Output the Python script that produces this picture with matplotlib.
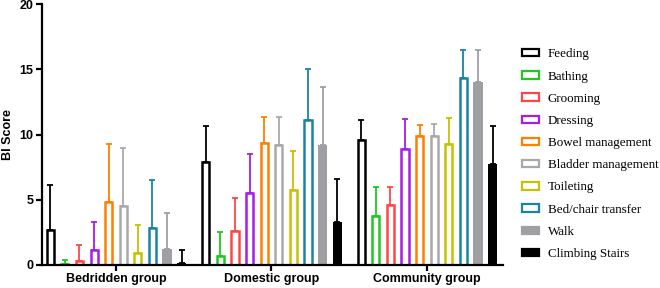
import numpy as np
import matplotlib.pyplot as plt
from matplotlib.patches import Patch

groups = ['Bedridden group', 'Domestic group', 'Community group']
items = ['Feeding', 'Bathing', 'Grooming', 'Dressing', 'Bowel management',
         'Bladder management', 'Toileting', 'Bed/chair transfer', 'Walk',
         'Climbing Stairs']

# mean scores per group (rows = items)
means = [
    [2.7, 7.87, 9.56],
    [0.05, 0.69, 3.72],
    [0.3, 2.62, 4.62],
    [1.15, 5.51, 8.9],
    [4.82, 9.36, 9.92],
    [4.49, 9.18, 9.87],
    [0.95, 5.77, 9.31],
    [2.8, 11.15, 14.33],
    [1.2, 9.18, 14.03],
    [0.13, 3.28, 7.77],
]
# SD (upper error)
sds = [
    [3.45, 2.82, 1.54],
    [0.33, 1.87, 2.23],
    [1.25, 2.51, 1.33],
    [2.18, 3.03, 2.3],
    [4.48, 1.97, 0.82],
    [4.51, 2.18, 0.98],
    [2.1, 3.0, 1.95],
    [3.74, 3.85, 2.13],
    [2.75, 4.49, 2.43],
    [1.02, 3.31, 2.92],
]

colors = ['black', '#1fc81f', '#ff4646', '#a61ee6', '#ff7f00',
          '#a9a9a9', '#c3c300', '#1a85a3', '#a0a0a4', 'black']
filled = [False] * 8 + [True, True]

fig = plt.figure(figsize=(6.6, 2.88), dpi=100)
ax = fig.add_axes([0.0636, 0.08, 0.6985, 0.905])

x = np.arange(len(groups))
pitch = 0.0939
w = 0.046
handles = []
for i, name in enumerate(items):
    pos = x + (i - 4.5) * pitch
    c = colors[i]
    if filled[i]:
        ax.bar(pos, means[i], width=w + 0.013, color=c, edgecolor=c, linewidth=0, zorder=2)
        handles.append(Patch(facecolor=c, edgecolor=c, linewidth=1.6))
    else:
        ax.bar(pos, means[i], width=w, facecolor='white', edgecolor=c, linewidth=1.8, zorder=2)
        handles.append(Patch(facecolor='white', edgecolor=c, linewidth=1.6))
    ax.errorbar(pos, means[i], yerr=[np.zeros(3), sds[i]], fmt='none', ecolor=c,
                elinewidth=1.3, capsize=2.5, capthick=1.3, zorder=1)

ax.set_xlim(-0.476, 2.489)
ax.set_ylim(0, 20)
ax.set_yticks([0, 5, 10, 15, 20])
ax.set_xticks(x)
ax.set_xticklabels(groups, fontsize=9, fontweight='bold', family='Liberation Sans')
for lab in ax.get_yticklabels():
    lab.set_fontweight('bold')
    lab.set_fontsize(9)
    lab.set_family('Liberation Sans')
ax.set_ylabel('BI Score', fontsize=9, fontweight='bold', family='Liberation Sans', labelpad=4)
ax.spines['top'].set_visible(False)
ax.spines['right'].set_visible(False)
ax.spines['left'].set_linewidth(1.6)
ax.spines['bottom'].set_linewidth(1.6)
ax.tick_params(width=1.6, length=4, pad=2)

ax.legend(handles, items, loc='upper left', bbox_to_anchor=(1.015, 0.876), frameon=False,
          prop={'family': 'Liberation Serif', 'size': 9.4}, handlelength=1.3, handleheight=0.5,
          labelspacing=0.78, handletextpad=0.7)

fig.savefig('out.png', dpi=100)
